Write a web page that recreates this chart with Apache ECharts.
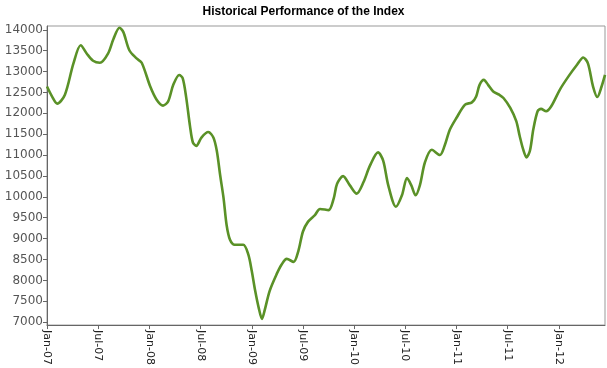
<!DOCTYPE html>
<html>
<head>
<meta charset="utf-8">
<script src="https://cdn.jsdelivr.net/npm/echarts@6/dist/echarts.min.js"></script>
<style>html,body{margin:0;padding:0;background:#fff;}#c{width:607px;height:368px;}</style>
</head>
<body>
<div id="c"></div>
<script>
// months since Jan-2007
var months = [0,0.6,1.2,2.1,3.1,3.95,4.65,5.4,6.2,7.15,7.8,8.5,8.95,9.65,10.5,11.1,12.1,12.85,13.6,14.2,14.8,15.5,15.9,16.3,16.76,17.1,17.5,18.1,18.9,19.5,19.9,20.3,20.7,21.05,21.45,22.0,23.0,23.6,24.0,24.4,24.8,25.2,25.5,26.1,26.9,27.5,28.1,28.9,29.45,30.0,30.6,31.4,32.0,33.0,33.6,34.0,34.7,35.5,36.3,37.1,37.85,38.8,39.4,40.0,40.9,41.6,42.2,42.7,43.2,43.7,44.3,45.1,46.05,46.6,47.2,48.0,49.0,49.8,50.3,50.7,51.2,51.7,52.3,53.0,53.5,54.3,55.0,55.4,55.8,56.2,56.6,57.0,57.5,57.9,58.5,59.1,60.1,61.1,62.1,62.85,63.4,64.0,64.5,65.0,65.4];
var values = [12640,12400,12232,12445,13195,13628,13432,13257,13210,13430,13787,14047,13943,13510,13313,13210,12641,12326,12184,12286,12681,12918,12840,12400,11694,11301,11221,11420,11552,11420,11102,10510,9959,9327,8972,8853,8853,8617,8223,7750,7355,7077,7276,7750,8143,8380,8515,8444,8697,9170,9407,9563,9710,9682,9959,10314,10496,10274,10077,10354,10747,11064,10866,10274,9762,10037,10449,10274,10037,10274,10828,11126,11000,11221,11600,11893,12208,12262,12404,12681,12800,12681,12523,12445,12367,12130,11812,11457,11142,10946,11102,11616,12049,12106,12049,12168,12563,12878,13155,13337,13195,12641,12390,12641,12918];
var xTickLabels = ['Jan-07','Jul-07','Jan-08','Jul-08','Jan-09','Jul-09','Jan-10','Jul-10','Jan-11','Jul-11','Jan-12'];
var yTickValues = [7000,7500,8000,8500,9000,9500,10000,10500,11000,11500,12000,12500,13000,13500,14000];

var data = months.map(function(m,i){return [m, values[i]];});
var chart = echarts.init(document.getElementById('c'), null, {renderer:'canvas'});
chart.setOption({
  animation:false,
  title:{text:'Historical Performance of the Index',left:'center',top:1,
    textStyle:{fontFamily:'Liberation Sans, Arial, sans-serif',fontSize:12,fontWeight:'bold',color:'#000'}},
  grid:{left:47,right:2,top:26,bottom:40,show:true,borderColor:'#999',borderWidth:1},
  xAxis:{type:'value',min:0,max:65.4,interval:6,
    axisLine:{show:true,lineStyle:{color:'#666'}},
    axisTick:{show:true,length:4,lineStyle:{color:'#666'}},
    splitLine:{show:false},
    axisLabel:{rotate:-90,margin:5,showMaxLabel:false,color:'#222',
      fontFamily:'DejaVu Sans, Verdana, sans-serif',fontSize:11,
      formatter:function(v){var i=Math.round(v/6);return (Math.abs(v-6*i)<0.01 && xTickLabels[i])?xTickLabels[i]:'';}}
  },
  yAxis:{type:'value',min:6930,max:14090,
    axisLine:{show:true,lineStyle:{color:'#666'}},
    axisTick:{show:true,length:4,customValues:yTickValues,lineStyle:{color:'#666'}},
    splitLine:{show:false},
    axisLabel:{customValues:yTickValues,margin:4,color:'#555',
      fontFamily:'DejaVu Sans, Verdana, sans-serif',fontSize:12,
      formatter:function(v){return String(v);}}
  },
  series:[{type:'line',data:data,smooth:0.3,symbol:'none',
    lineStyle:{color:'#5a9127',width:2.6}}]
});
</script>
</body>
</html>
